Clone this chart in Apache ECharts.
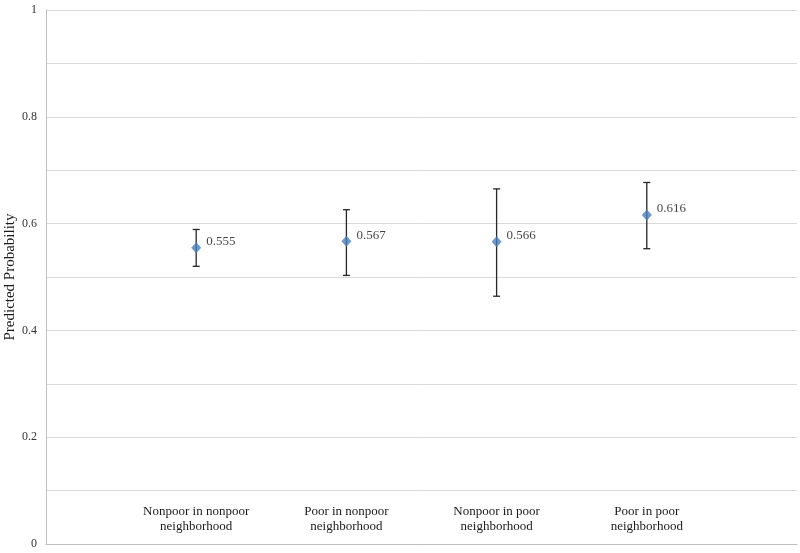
<!DOCTYPE html>
<html>
<head>
<meta charset="utf-8">
<script src="https://cdn.jsdelivr.net/npm/echarts@6/dist/echarts.min.js"></script>
<style>html,body{margin:0;padding:0;background:#fff}#c{width:800px;height:553px}</style>
</head>
<body>
<div id="c"></div>
<script>
const categories = ['Nonpoor in nonpoor\nneighborhood', 'Poor in nonpoor\nneighborhood', 'Nonpoor in poor\nneighborhood', 'Poor in poor\nneighborhood'];
const positions = [1, 2, 3, 4];
const estimates = [0.555, 0.567, 0.566, 0.616];
const lowerCI = [0.520, 0.503, 0.464, 0.553];
const upperCI = [0.589, 0.626, 0.665, 0.677];
const yTickLabels = ['0', '0.2', '0.4', '0.6', '0.8', '1'];

const font = '"Liberation Serif", "Times New Roman", serif';
const chart = echarts.init(document.getElementById('c'));

const pointData = positions.map((p, i) => [p, estimates[i]]);
const barData = positions.map((p, i) => [p, lowerCI[i], upperCI[i]]);

chart.setOption({
  animation: false,
  grid: { left: 46, right: 3, top: 10, bottom: 9, containLabel: false, outerBoundsMode: 'none' },
  xAxis: {
    type: 'value', min: 0, max: 5, interval: 1,
    axisLine: { show: true, lineStyle: { color: '#bfbfbf', width: 1 } },
    axisTick: { show: false },
    splitLine: { show: false },
    axisLabel: {
      inside: true, margin: 10, interval: 0,
      fontFamily: font, fontSize: 13, color: '#1a1a1a', lineHeight: 15, align: 'center',
      formatter: v => (v >= 1 && v <= 4) ? categories[v - 1] : ''
    }
  },
  yAxis: {
    type: 'value', min: 0, max: 1, interval: 0.1,
    name: 'Predicted Probability', nameLocation: 'middle', nameRotate: 90, nameGap: 28,
    nameMoveOverlap: false,
    nameTextStyle: { fontFamily: font, fontSize: 15, color: '#1a1a1a' },
    axisLine: { show: true, lineStyle: { color: '#bfbfbf', width: 1 } },
    axisTick: { show: false },
    splitLine: { show: true, lineStyle: { color: '#d9d9d9', width: 1 } },
    axisLabel: {
      fontFamily: font, fontSize: 12, color: '#333333', margin: 9,
      formatter: v => {
        const k = Math.round(v * 10);
        return k % 2 === 0 ? yTickLabels[k / 2] : '';
      }
    }
  },
  series: [
    {
      type: 'custom',
      data: barData,
      z: 3,
      renderItem: (params, api) => {
        const x = api.value(0);
        const lo = api.coord([x, api.value(1)]);
        const hi = api.coord([x, api.value(2)]);
        const w = 3.5;
        const style = { stroke: '#262626', lineWidth: 1.3 };
        return {
          type: 'group',
          children: [
            { type: 'line', shape: { x1: lo[0], y1: lo[1], x2: hi[0], y2: hi[1] }, style },
            { type: 'line', shape: { x1: lo[0] - w, y1: lo[1], x2: lo[0] + w, y2: lo[1] }, style },
            { type: 'line', shape: { x1: hi[0] - w, y1: hi[1], x2: hi[0] + w, y2: hi[1] }, style }
          ]
        };
      }
    },
    {
      type: 'scatter',
      data: pointData,
      z: 5,
      symbol: 'diamond',
      symbolSize: [10, 11],
      itemStyle: { color: '#4a7ebb' },
      label: {
        show: true, position: 'right', distance: 5, offset: [0, -6],
        fontFamily: font, fontSize: 13, color: '#111111',
        formatter: p => p.value[1].toFixed(3)
      }
    }
  ]
});
</script>
</body>
</html>
